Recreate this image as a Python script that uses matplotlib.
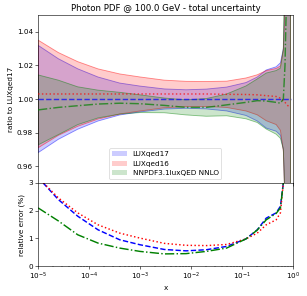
import numpy as np
import matplotlib
matplotlib.use('Agg')
import matplotlib.pyplot as plt
from matplotlib.patches import Patch

# x grid (momentum fraction)
x = np.array([1e-5, 2.5e-5, 6e-5, 1.5e-4, 4e-4, 1e-3, 3e-3, 8e-3, 2e-2, 5e-2,
              0.12, 0.2, 0.3, 0.47, 0.57, 0.65, 0.7, 0.8, 0.9])

# relative errors in percent
err_lux17 = np.array([3.2, 2.40, 1.80, 1.31, 0.95, 0.77, 0.60, 0.55, 0.59, 0.71,
                      0.98, 1.31, 1.73, 1.92, 2.16, 3.0, 6.0, 20.0, 60.0])
err_lux16 = np.array([3.2, 2.46, 1.92, 1.49, 1.19, 1.01, 0.82, 0.75, 0.74, 0.78,
                      0.98, 1.19, 1.49, 1.67, 1.92, 3.0, 6.0, 20.0, 60.0])
err_nnpdf = np.array([2.10, 1.63, 1.13, 0.83, 0.65, 0.53, 0.44, 0.45, 0.53, 0.65,
                      0.98, 1.30, 1.67, 1.90, 2.10, 3.0, 8.0, 25.0, 60.0])

# central values as ratio to LUXqed17
cen_lux17 = np.ones(len(x))
cen_lux16 = np.array([1.003, 1.003, 1.003, 1.003, 1.003, 1.003, 1.003, 1.003, 1.003, 1.0028,
                      1.0027, 1.0025, 1.002, 1.0015, 1.0005, 0.999, 0.998, 0.996, 0.995])
cen_nnpdf = np.array([0.9935, 0.995, 0.996, 0.997, 0.9975, 0.9972, 0.9962, 0.995, 0.995, 0.9965,
                      0.998, 0.999, 0.9988, 0.998, 0.9975, 1.0, 1.02, 1.1, 1.2])

sets = [
    ('LUXqed17', cen_lux17, err_lux17, 'blue', '--'),
    ('LUXqed16', cen_lux16, err_lux16, 'red', ':'),
    ('NNPDF3.1luxQED NNLO', cen_nnpdf, err_nnpdf, 'green', '-.'),
]

fig = plt.figure(figsize=(307 / 52, 296 / 52), dpi=52)
ax1 = fig.add_axes([0.124, 0.382, 0.830, 0.567])
ax2 = fig.add_axes([0.124, 0.101, 0.830, 0.281], sharex=ax1)

handles = []
for name, cen, err, col, ls in sets:
    up = cen * (1 + err / 100)
    lo = cen * (1 - err / 100)
    ax1.fill_between(x, lo, up, facecolor=matplotlib.colors.to_rgba(col, 0.2),
                     edgecolor=matplotlib.colors.to_rgba(col, 0.45), lw=1.2, zorder=1)
    ax2.plot(x, err, color=col, ls=ls, lw=2)
    handles.append(Patch(facecolor=col, alpha=0.2, label=name))

# central lines on top of all bands
for name, cen, err, col, ls in sets:
    ax1.plot(x, cen, color=col, ls=ls, lw=2, alpha=0.7, zorder=3)

ax1.set_xscale('log')
ax1.set_xlim(1e-5, 1)
ax1.set_ylim(0.95, 1.05)
ax1.set_yticks([0.96, 0.98, 1.00, 1.02, 1.04])
ax1.set_ylabel('ratio to LUXqed17')
ax1.set_title('Photon PDF @ 100.0 GeV - total uncertainty')
ax1.tick_params(labelbottom=False)
ax1.legend(handles=handles, loc='lower center')

ax2.set_ylim(0, 3)
ax2.set_yticks([0, 1, 2, 3])
ax2.set_ylabel('relative error (%)')
ax2.set_xlabel('x')

fig.savefig('out.png', dpi=52)
